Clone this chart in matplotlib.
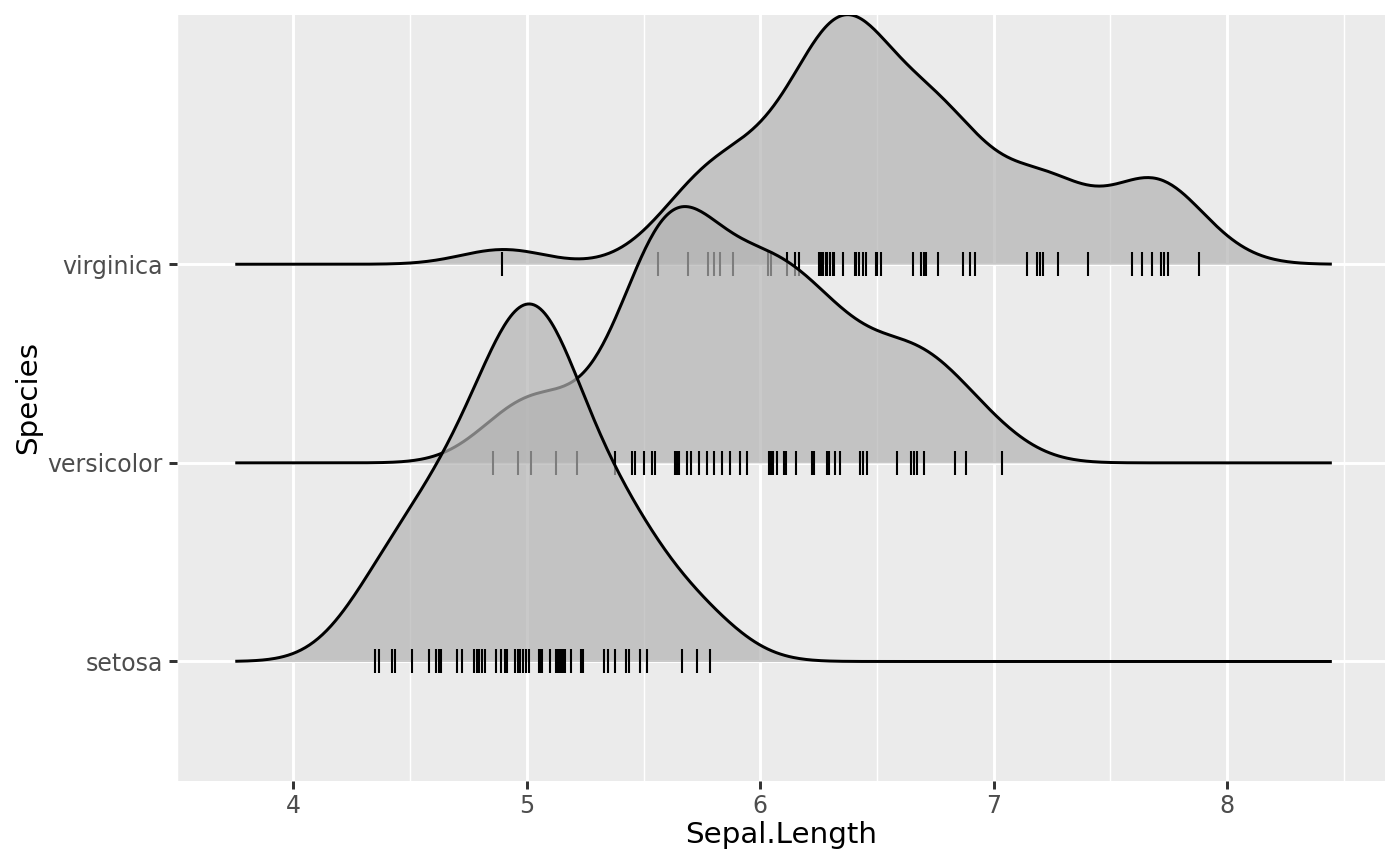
'''
ridgeline plot of iris sepal length by species, ggplot/ggridges look
saves out.png
'''
import numpy as np
import matplotlib.pyplot as plt

rc_params = {
    "font.family": "DejaVu Sans",
    "axes.spines.right": False,
    "axes.spines.top": False,
    "axes.spines.left": False,
    "axes.spines.bottom": False,
    "xtick.labelsize": 8.5,
    "ytick.labelsize": 8.5,
    "axes.labelsize": 10.6,
    "xtick.color": "#333333",
    "ytick.color": "#333333",
    "xtick.labelcolor": "#4D4D4D",
    "ytick.labelcolor": "#4D4D4D",
    "xtick.major.size": 2.75,
    "ytick.major.size": 2.75,
    "xtick.major.width": 1.07,
    "ytick.major.width": 1.07,
    "xtick.major.pad": 2.2,
    "ytick.major.pad": 2.2,
}
plt.rcParams.update(rc_params)

species = ["setosa", "versicolor", "virginica"]

# Sepal.Length per species (iris)
setosa_len = [5.1, 4.9, 4.7, 4.6, 5.0, 5.4, 4.6, 5.0, 4.4, 4.9, 5.4, 4.8, 4.8, 4.3, 5.8,
              5.7, 5.4, 5.1, 5.7, 5.1, 5.4, 5.1, 4.6, 5.1, 4.8, 5.0, 5.0, 5.2, 5.2, 4.7,
              4.8, 5.4, 5.2, 5.5, 4.9, 5.0, 5.5, 4.9, 4.4, 5.1, 5.0, 4.5, 4.4, 5.0, 5.1,
              4.8, 5.1, 4.6, 5.3, 5.0]
versicolor_len = [7.0, 6.4, 6.9, 5.5, 6.5, 5.7, 6.3, 4.9, 6.6, 5.2, 5.0, 5.9, 6.0, 6.1, 5.6,
                  6.7, 5.6, 5.8, 6.2, 5.6, 5.9, 6.1, 6.3, 6.1, 6.4, 6.6, 6.8, 6.7, 6.0, 5.7,
                  5.5, 5.5, 5.8, 6.0, 5.4, 6.0, 6.7, 6.3, 5.6, 5.5, 5.5, 6.1, 5.8, 5.0, 5.6,
                  5.7, 5.7, 6.2, 5.1, 5.7]
virginica_len = [6.3, 5.8, 7.1, 6.3, 6.5, 7.6, 4.9, 7.3, 6.7, 7.2, 6.5, 6.4, 6.8, 5.7, 5.8,
                 6.4, 6.5, 7.7, 7.7, 6.0, 6.9, 5.6, 7.7, 6.3, 6.7, 7.2, 6.2, 6.1, 6.4, 7.2,
                 7.4, 7.9, 6.4, 6.3, 6.1, 7.7, 6.3, 6.4, 6.0, 6.9, 6.7, 6.9, 5.8, 6.8, 6.7,
                 6.7, 6.3, 6.5, 6.2, 5.9]

# jittered rug positions
setosa_ticks = [4.348, 4.367, 4.422, 4.435, 4.510, 4.580, 4.610, 4.625, 4.633, 4.702,
                4.724, 4.772, 4.786, 4.797, 4.806, 4.820, 4.869, 4.888, 4.905, 4.917,
                4.950, 4.962, 4.971, 4.985, 4.997, 5.008, 5.053, 5.060, 5.066, 5.100,
                5.124, 5.131, 5.139, 5.146, 5.150, 5.156, 5.164, 5.190, 5.232, 5.240,
                5.330, 5.349, 5.377, 5.426, 5.440, 5.485, 5.517, 5.667, 5.730, 5.787]
versicolor_ticks = [4.855, 4.962, 5.020, 5.123, 5.213, 5.378, 5.451, 5.465, 5.504, 5.537,
                    5.551, 5.636, 5.640, 5.643, 5.647, 5.650, 5.686, 5.703, 5.736, 5.771,
                    5.804, 5.835, 5.871, 5.913, 5.945, 6.038, 6.041, 6.048, 6.055, 6.074,
                    6.100, 6.112, 6.152, 6.220, 6.230, 6.288, 6.296, 6.320, 6.340, 6.429,
                    6.439, 6.459, 6.584, 6.646, 6.661, 6.672, 6.703, 6.835, 6.882, 7.038]
virginica_ticks = [4.893, 5.561, 5.690, 5.778, 5.800, 5.828, 5.882, 6.034, 6.048, 6.115,
                   6.148, 6.166, 6.250, 6.260, 6.270, 6.280, 6.285, 6.297, 6.310, 6.318,
                   6.354, 6.404, 6.410, 6.425, 6.439, 6.453, 6.496, 6.500, 6.517, 6.654,
                   6.690, 6.700, 6.710, 6.761, 6.867, 6.900, 6.922, 7.143, 7.187, 7.199,
                   7.210, 7.274, 7.405, 7.592, 7.636, 7.680, 7.717, 7.730, 7.747, 7.878]

lengths = [setosa_len, versicolor_len, virginica_len]
ticks = [setosa_ticks, versicolor_ticks, virginica_ticks]


def bw_nrd0(x):
    x = np.asarray(x)
    iqr = np.subtract(*np.percentile(x, [75, 25]))
    lo = min(np.std(x, ddof=1), iqr / 1.34)
    return 0.9 * lo * len(x) ** -0.2


# joint bandwidth like ggridges (mean of group bandwidths)
bw = np.mean([bw_nrd0(v) for v in lengths])
all_x = np.concatenate(lengths)
x_lo, x_hi = all_x.min() - 3 * bw, all_x.max() + 3 * bw
grid = np.linspace(x_lo, x_hi, 512)

dens = []
for v in lengths:
    v = np.asarray(v)
    z = (grid[:, None] - v[None, :]) / bw
    dens.append(np.exp(-0.5 * z ** 2).sum(axis=1) / (len(v) * bw * np.sqrt(2 * np.pi)))
dmax = max(d.max() for d in dens)
scale = 1.8

fig, ax = plt.subplots(figsize=(7, 4.325), dpi=200)
fig.subplots_adjust(left=0.1262, right=0.9893, top=0.983, bottom=0.0975)
ax.set_facecolor("#EBEBEB")

# top ridge first so lower ridges sit in front
for i in reversed(range(len(species))):
    base = i + 1
    top = base + dens[i] / dmax * scale
    z0 = 10 + (2 - i) * 3
    ax.fill_between(grid, base, top, color="#B3B3B3", alpha=0.7, linewidth=0, zorder=z0)
    ax.plot(grid, top, color="black", linewidth=1.07, zorder=z0 + 1)
    ax.plot(ticks[i], np.full(len(ticks[i]), base), "|", color="black",
            markersize=8.6, markeredgewidth=0.75, zorder=z0 + 2)

ymax = max(i + 1 + dens[i].max() / dmax * scale for i in range(3))
pad = 0.05 * (x_hi - x_lo)
ax.set_xlim(x_lo - pad, x_hi + pad)
ax.set_ylim(0.4, ymax)

ax.set_xticks([4, 5, 6, 7, 8])
ax.set_xticks(np.arange(3.5, 9.0, 1.0), minor=True)
ax.set_yticks([1, 2, 3])
ax.set_yticklabels(species)
ax.tick_params(which="minor", length=0)
ax.set_axisbelow(True)
ax.grid(which="major", color="white", linewidth=1.07)
ax.grid(which="minor", axis="x", color="white", linewidth=0.53)

ax.set_xlabel("Sepal.Length", labelpad=1)
ax.set_ylabel("Species", labelpad=2)

plt.savefig("out.png", dpi=200)
plt.close()
